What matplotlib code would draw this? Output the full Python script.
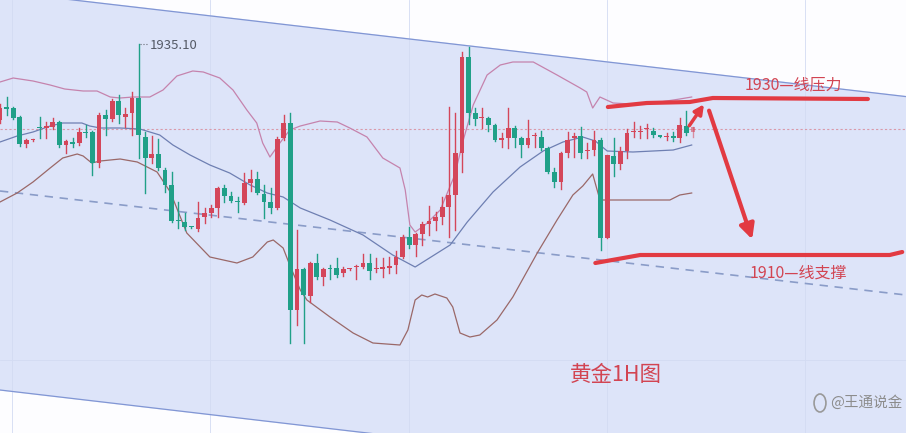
import matplotlib
matplotlib.use("Agg")
import matplotlib.pyplot as plt
from matplotlib.patches import Rectangle, Circle

plt.rcParams['font.family'] = ['Noto Sans CJK SC', 'DejaVu Sans']

# Gold 1H candles
opens = [1927.5, 1928.8, 1928.7, 1927.8, 1925.1, 1925.5, 1926.8, 1926.7, 1926.8, 1927.3,
         1925.0, 1925.3, 1925.2, 1926.3, 1926.3, 1923.2, 1928.0, 1927.6, 1929.4, 1927.8,
         1928.2, 1929.7, 1925.8, 1923.7, 1924.1, 1922.5, 1921.0, 1917.5, 1917.3, 1916.8,
         1916.6, 1917.8, 1918.2, 1918.7, 1920.7, 1919.9, 1919.4, 1919.2, 1921.2, 1921.6,
         1920.1, 1919.3, 1918.7, 1925.7, 1927.2, 1908.5, 1912.6, 1909.9, 1913.2, 1911.8,
         1912.7, 1912.7, 1912.2, 1912.6, 1912.8, 1912.8, 1913.2, 1912.6, 1912.6, 1912.7,
         1913.0, 1913.8, 1915.8, 1915.0, 1916.1, 1917.1, 1917.4, 1917.8, 1918.8, 1920.0,
         1924.2, 1933.8, 1928.2, 1927.7, 1927.7, 1927.0, 1925.5, 1925.7, 1926.7, 1925.7,
         1925.0, 1925.9, 1925.8, 1924.7, 1922.3, 1921.3, 1924.2, 1925.7, 1925.9, 1924.4,
         1924.5, 1925.5, 1915.7, 1923.9, 1923.1, 1924.4, 1926.3, 1926.3, 1926.6, 1926.4,
         1925.9, 1925.8, 1925.9, 1925.7, 1926.9, 1926.3]
highs = [1929.1, 1929.8, 1928.8, 1927.9, 1925.6, 1925.6, 1927.8, 1927.3, 1927.7, 1927.4,
         1925.5, 1925.7, 1926.7, 1927.0, 1926.4, 1928.2, 1928.5, 1929.6, 1930.0, 1928.7,
         1930.3, 1935.1, 1926.3, 1925.9, 1925.6, 1922.7, 1922.3, 1919.3, 1918.2, 1916.8,
         1919.3, 1918.7, 1919.0, 1920.8, 1921.0, 1920.3, 1919.8, 1922.2, 1922.5, 1922.3,
         1921.0, 1920.7, 1925.8, 1928.0, 1928.2, 1916.5, 1912.7, 1913.3, 1914.1, 1912.7,
         1913.0, 1913.7, 1912.8, 1912.6, 1913.0, 1914.1, 1914.1, 1913.7, 1913.7, 1913.8,
         1914.4, 1916.0, 1916.8, 1916.2, 1917.3, 1918.9, 1918.3, 1919.8, 1928.8, 1928.2,
         1934.3, 1934.8, 1928.7, 1928.7, 1927.8, 1927.1, 1926.2, 1928.7, 1926.9, 1925.8,
         1927.5, 1926.2, 1926.4, 1924.8, 1922.7, 1924.3, 1926.3, 1926.2, 1926.8, 1925.2,
         1926.4, 1925.7, 1924.0, 1925.7, 1924.8, 1926.6, 1927.3, 1926.9, 1927.1, 1926.7,
         1925.9, 1926.2, 1926.3, 1927.7, 1928.4, 1926.8]
lows = [1927.2, 1928.0, 1927.6, 1924.9, 1924.8, 1925.4, 1925.7, 1925.7, 1926.6, 1924.8,
        1924.2, 1924.8, 1925.0, 1925.8, 1922.0, 1922.8, 1926.0, 1927.4, 1927.2, 1926.8,
        1926.0, 1923.7, 1920.2, 1923.2, 1922.5, 1920.3, 1917.3, 1916.7, 1916.5, 1916.7,
        1916.4, 1917.2, 1917.8, 1917.8, 1919.3, 1919.3, 1918.3, 1919.1, 1920.4, 1920.1,
        1917.7, 1918.2, 1918.6, 1925.5, 1905.2, 1907.0, 1905.2, 1909.3, 1911.6, 1911.0,
        1911.6, 1911.8, 1911.9, 1912.5, 1911.6, 1912.7, 1911.6, 1912.3, 1911.8, 1912.2,
        1912.2, 1913.7, 1914.7, 1913.9, 1915.0, 1916.0, 1916.5, 1917.1, 1915.8, 1916.5,
        1922.3, 1927.1, 1927.0, 1926.7, 1926.4, 1925.4, 1924.8, 1924.7, 1924.8, 1923.8,
        1924.8, 1924.8, 1924.5, 1922.2, 1920.8, 1920.6, 1923.8, 1923.8, 1923.7, 1923.7,
        1924.0, 1914.5, 1915.7, 1921.9, 1922.6, 1923.7, 1925.8, 1925.7, 1925.7, 1925.8,
        1925.8, 1925.5, 1925.4, 1925.3, 1926.0, 1925.8]
closes = [1928.7, 1928.6, 1927.7, 1925.1, 1925.5, 1925.5, 1926.7, 1926.9, 1927.3, 1925.0,
          1925.4, 1925.1, 1926.3, 1926.2, 1923.2, 1928.0, 1927.6, 1929.4, 1928.0, 1928.1,
          1929.7, 1926.0, 1923.7, 1924.1, 1922.7, 1921.0, 1917.4, 1917.4, 1916.8, 1916.75,
          1917.7, 1918.2, 1918.7, 1920.7, 1919.9, 1919.4, 1919.3, 1921.2, 1921.6, 1920.2,
          1919.3, 1918.7, 1925.6, 1927.2, 1908.5, 1912.6, 1910.0, 1913.2, 1911.8, 1912.6,
          1912.6, 1912.0, 1912.6, 1912.6, 1912.9, 1913.2, 1912.4, 1912.7, 1912.8, 1912.9,
          1913.8, 1915.8, 1915.0, 1916.1, 1917.1, 1917.4, 1917.8, 1918.8, 1920.0, 1924.2,
          1933.8, 1928.2, 1927.6, 1927.8, 1927.0, 1925.5, 1925.7, 1926.7, 1925.7, 1925.0,
          1925.7, 1926.0, 1924.7, 1922.3, 1921.3, 1924.2, 1925.5, 1925.9, 1924.2, 1924.5,
          1925.5, 1915.7, 1924.0, 1923.1, 1924.4, 1926.2, 1926.4, 1926.4, 1926.7, 1926.0,
          1925.85, 1925.9, 1925.7, 1927.0, 1926.2, 1926.8]

# Bollinger bands, sampled along the chart (candle index, price)
upper_x = [0, 2, 5, 7.6, 9.8, 12.6, 14.7, 16.7, 18.2, 20.2, 22.7, 24.7, 26.8, 29.2, 30.8,
           33.3, 35.3, 37.4, 38.9, 39.8, 40.9, 42.4, 43.9, 45.5, 48.5, 51.1, 53, 55.6, 58,
           60.6, 61.4, 62.1, 62.9, 64.4, 66.7, 68.9, 70.2, 71.7, 73.8, 75.8, 77.7, 80.8,
           84.4, 87.9, 88.9, 89.8, 90.9, 92.9, 95.5, 100, 103, 104.8]
upper_y = [1931.3, 1931.7, 1931.4, 1931.0, 1930.6, 1930.4, 1930.4, 1929.8, 1929.7, 1929.8,
           1929.8, 1930.5, 1931.9, 1932.4, 1932.3, 1931.7, 1930.5, 1928.5, 1927.2, 1925.2,
           1923.8, 1925.2, 1926.5, 1926.9, 1927.4, 1927.3, 1926.7, 1925.8, 1923.7, 1922.7,
           1920.5, 1917.0, 1916.3, 1917.0, 1918.5, 1922.0, 1925.5, 1929.0, 1932.0, 1933.0,
           1933.3, 1933.3, 1932.0, 1930.7, 1930.3, 1928.7, 1929.8, 1929.2, 1929.1, 1929.3,
           1929.6, 1929.8]
mid_x = [0, 2.6, 5, 7.6, 9.5, 12.4, 13.6, 15.2, 18.2, 21.2, 24.2, 26.2, 28.8, 31.8, 34.8,
         37.9, 40.5, 42.9, 45.5, 50, 55, 59.5, 62.9, 68.2, 70.8, 74.7, 78.8, 82.3, 85.3,
         88.3, 90.2, 92, 95.9, 102, 104.8]
mid_y = [1925.3, 1925.9, 1926.3, 1926.9, 1927.2, 1927.2, 1926.9, 1926.7, 1926.7, 1926.6,
         1926.0, 1925.0, 1924.0, 1923.0, 1922.2, 1921.0, 1920.2, 1919.8, 1918.7, 1917.5,
         1916.0, 1914.0, 1912.8, 1915.0, 1917.3, 1920.3, 1922.8, 1924.4, 1925.3, 1925.8,
         1925.4, 1924.4, 1924.3, 1924.5, 1925.0]
lower_x = [0, 2.6, 5, 7.6, 9.5, 11.7, 12.6, 13.9, 15.2, 18.2, 20.8, 22.3, 23.8, 25.8, 28.3,
           31.8, 35.9, 38.3, 40.5, 41.4, 42.9, 43.9, 45.5, 46.5, 50, 53.5, 56.5, 60.6, 61.8,
           62.9, 63.9, 64.8, 65.9, 67.7, 68.6, 69.7, 71.2, 72.7, 75.3, 77.7, 81.4, 84.4,
           86.8, 88.3, 89.8, 90.9, 101.5, 103, 104.8]
lower_y = [1919.3, 1920.2, 1921.3, 1922.7, 1923.7, 1924.1, 1923.9, 1923.2, 1923.4, 1923.6,
           1923.3, 1922.8, 1922.3, 1920.3, 1916.2, 1913.8, 1913.2, 1913.8, 1915.3, 1915.5,
           1914.7, 1913.0, 1910.5, 1909.5, 1907.8, 1906.2, 1905.2, 1905.0, 1906.5, 1909.5,
           1910.0, 1909.8, 1910.1, 1909.7, 1908.8, 1906.2, 1905.8, 1906.0, 1907.5, 1909.8,
           1914.2, 1917.5, 1920.0, 1920.9, 1922.1, 1919.5, 1919.5, 1920.0, 1920.2]

last_price = 1926.6
peak_label = "1935.10"

UP = '#d4465a'
DOWN = '#20a088'

fig = plt.figure(figsize=(9.06, 4.33), dpi=100)
fig.patch.set_facecolor('#fdfdff')
ax = fig.add_axes([0, 0, 1, 1])
ax.set_facecolor('#fdfdff')
x_max = 906 / 6.6
ax.set_xlim(0, x_max)
ax.set_ylim(1896.2, 1939.5)
ax.axis('off')

# descending channel
ax.fill_between([0, x_max], [1940.35, 1929.84], [1900.5, 1889.9], color='#dde4f9', zorder=0)
ax.plot([0, x_max], [1940.35, 1929.84], color='#8196d4', lw=0.9, zorder=1)
ax.plot([0, x_max], [1900.5, 1889.9], color='#8196d4', lw=0.9, zorder=1)
ax.plot([0, x_max], [1920.4, 1910.0], color='#8a9cc8', lw=1.2, dashes=(5, 4), zorder=1)

# faint grid
for gx in [12, 210, 409, 607, 805]:
    ax.axvline(gx / 6.6, color='#d3dbf3', lw=0.6, zorder=0.5)
ax.axhline(1903.5, color='#d3dbf3', lw=0.6, zorder=0.5)

ax.axhline(last_price, color='#d99aaa', lw=0.8, dashes=(2, 2), zorder=1)

# bands
ax.plot(upper_x, upper_y, color='#c583ad', lw=0.9, zorder=2)
ax.plot(mid_x, mid_y, color='#6e7fb2', lw=0.9, zorder=2)
ax.plot(lower_x, lower_y, color='#9a6868', lw=0.9, zorder=2)

# candles
for i in range(len(opens)):
    o, h, l, c = opens[i], highs[i], lows[i], closes[i]
    col = UP if c >= o else DOWN
    a = 0.55 if i == len(opens) - 1 else 1
    ax.plot([i, i], [l, h], color=col, lw=1, zorder=3, alpha=a)
    body = max(abs(c - o), 0.12)
    ax.add_patch(Rectangle((i - 0.36, min(o, c)), 0.72, body, color=col, zorder=4, alpha=a, lw=0))

# peak label
ax.plot([21.2, 22.4], [1935.1, 1935.1], color='#666a75', lw=0.8, ls=':', zorder=4)
ax.text(22.7, 1934.9, peak_label, fontsize=9.5, color='#555a66', va='center', zorder=5)

# hand-drawn resistance / support
red = '#e23a42'
ax.plot([92.1, 98.0, 104.5, 108.0, 131.5], [1928.8, 1929.2, 1929.3, 1929.7, 1929.6],
        color=red, lw=3, solid_capstyle='round', zorder=6)
ax.plot([90.2, 97.0, 134.8, 136.7], [1913.2, 1914.0, 1914.0, 1914.3],
        color=red, lw=3, solid_capstyle='round', zorder=6)
ax.annotate('', xy=(106.9, 1929.3), xytext=(104.2, 1926.7),
            arrowprops=dict(arrowstyle='-|>', color=red, lw=2.5, mutation_scale=14), zorder=6)
ax.annotate('', xy=(114.1, 1915.3), xytext=(107.3, 1928.7),
            arrowprops=dict(arrowstyle='-|>', color=red, lw=3, mutation_scale=22), zorder=6)

ax.text(120.2, 1931.0, '1930—线压力', fontsize=11.5, color='#d24452', ha='center', va='center', zorder=7)
ax.text(120.9, 1912.2, '1910—线支撑', fontsize=11.5, color='#d24452', ha='center', va='center', zorder=7)
ax.text(93.3, 1902.0, '黄金1H图', fontsize=15.5, color='#d24452', ha='center', va='center', zorder=7)

# watermark
ax.add_patch(Circle((820 / 6.6, 1899.2), 0.9, fill=False, ec='#999999', lw=1.2, zorder=7))
ax.text(125.8, 1899.2, '@王通说金', fontsize=10.5, color='#8c8c8c', ha='left', va='center', zorder=7)

fig.savefig('out.png', dpi=100)
